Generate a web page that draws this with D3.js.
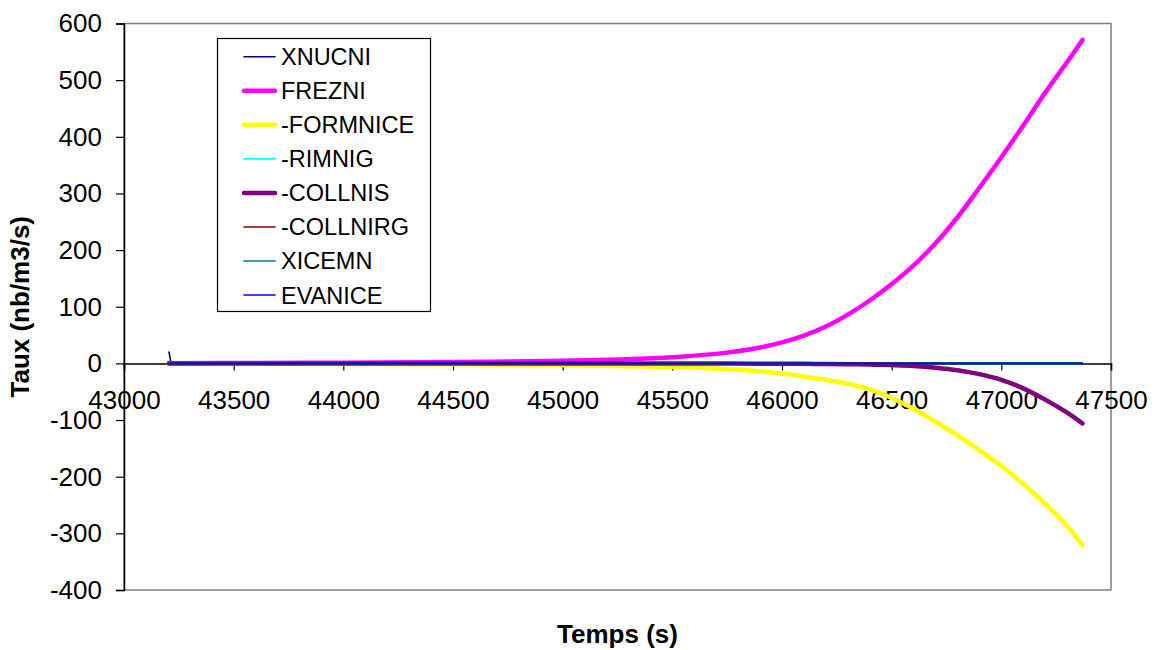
<!DOCTYPE html>
<html>
<head>
<meta charset="utf-8">
<script src="https://cdn.jsdelivr.net/npm/d3@7"></script>
<style>
  html, body { margin: 0; padding: 0; background: #ffffff; }
  svg { display: block; font-family: "Liberation Sans", Arial, sans-serif; }
</style>
</head>
<body>
<svg id="chart" width="1160" height="650"></svg>
<script>
// ---- data ----
const times = [43205, 43215, 43500, 44000, 44500, 45000, 45250, 45500, 45750, 45900, 46000, 46100, 46200, 46300, 46400, 46500, 46600, 46700, 46800, 46900, 47000, 47100, 47200, 47300, 47370];
const xnucni   = [20, 0, 0, 0, 0, 0, 0, 0, 0, 0, 0, 0, 0, 0, 0, 0, 0, 0, 0, 0, 0, 0, 0, 0, 0];
const frezni   = [0.3, 0.3, 0.6, 1.2, 2.3, 4.5, 7, 11, 19, 28, 37, 49, 65, 86, 111, 140, 173, 212, 258, 310, 364, 420, 478, 532, 571];
const formnice = [-0.5, -0.5, -0.7, -1, -1.5, -3, -4.5, -6, -10, -14, -18, -23, -29, -36, -46, -61, -80, -103, -127, -153, -181, -213, -248, -287, -321];
const rimnig   = [0, 0, 0, 0, 0, 0, 0, 0, 0, 0, 0, 0, 0, 0, 0, 0, 0, 0, 0, 0, 0, 0, 0, 0, 0];
const collnis  = [0, 0, 0, 0, 0, -0.1, -0.1, -0.2, -0.3, -0.4, -0.5, -0.7, -1, -1.4, -2, -3, -4.5, -7.5, -12, -19, -29, -44, -64, -87, -106];
const collnirg = [0, 0, 0, 0, 0, 0, 0, 0, 0, 0, 0, 0, 0, 0, 0, 0, 0, 0, 0, 0, 0, 0, 0, 0, 0];
const xicemn   = [0, 0, 0, 0, 0, 0, 0, 0, 0, 0, 0, 0, 0, 0, 0, 0, 0, 0, 0, 0, 0, 0, 0, 0, 0];
const evanice  = [0, 0, 0, 0, 0, 0, 0, 0, 0, 0, 0, 0, 0, 0, 0, 0, 0, 0, 0, 0, 0, 0, 0, 0, 0];

const seriesNames  = ["XNUCNI", "FREZNI", "-FORMNICE", "-RIMNIG", "-COLLNIS", "-COLLNIRG", "XICEMN", "EVANICE"];
const seriesValues = [xnucni, frezni, formnice, rimnig, collnis, collnirg, xicemn, evanice];
const seriesColors = ["#000080", "#ff00ff", "#ffff00", "#00ffff", "#800080", "#800000", "#008080", "#0000ff"];
const seriesWidths = [1.6, 4.5, 4.5, 1.6, 4.5, 1.6, 1.6, 1.6];

const xTicks = [43000, 43500, 44000, 44500, 45000, 45500, 46000, 46500, 47000, 47500];
const yTicks = [-400, -300, -200, -100, 0, 100, 200, 300, 400, 500, 600];
const xTitle = "Temps (s)";
const yTitle = "Taux (nb/m3/s)";

// ---- layout ----
const plot = { left: 124, right: 1111, top: 23.5, bottom: 590 };
const svg = d3.select("#chart");

const x = d3.scaleLinear().domain([43000, 47500]).range([plot.left, plot.right]);
const y = d3.scaleLinear().domain([-400, 600]).range([plot.bottom, plot.top]);
const fmt = d => String(d);

// plot area border (gray)
svg.append("rect")
  .attr("x", plot.left).attr("y", plot.top)
  .attr("width", plot.right - plot.left).attr("height", plot.bottom - plot.top)
  .attr("fill", "#ffffff").attr("stroke", "#808080").attr("stroke-width", 1.5);

// y axis
const yAxis = svg.append("g")
  .attr("transform", `translate(${plot.left},0)`)
  .call(d3.axisLeft(y).tickValues(yTicks).tickSize(8).tickPadding(14).tickFormat(fmt));
yAxis.select(".domain").attr("stroke", "#000").attr("stroke-width", 1.5);
yAxis.selectAll(".tick line").attr("stroke", "#000").attr("stroke-width", 1.2);
yAxis.selectAll(".tick text").attr("font-size", "26px").attr("fill", "#000")
  .attr("font-family", "Liberation Sans, Arial, sans-serif");

// x axis at y=0
const xAxis = svg.append("g")
  .attr("transform", `translate(0,${y(0)})`)
  .call(d3.axisBottom(x).tickValues(xTicks).tickSize(7).tickPadding(20).tickFormat(fmt));
xAxis.select(".domain").attr("stroke", "#000").attr("stroke-width", 1.5);
xAxis.selectAll(".tick line").attr("stroke", "#000").attr("stroke-width", 1.2);
xAxis.selectAll(".tick text").attr("font-size", "26px").attr("fill", "#000")
  .attr("font-family", "Liberation Sans, Arial, sans-serif");

// lines
const smoothLine = d3.line()
  .x((d, i) => x(times[i]))
  .y(d => y(d))
  .curve(d3.curveCatmullRom.alpha(0.5));
const straightLine = d3.line()
  .x((d, i) => x(times[i]))
  .y(d => y(d))
  .curve(d3.curveLinear);

seriesValues.forEach((vals, k) => {
  svg.append("path")
    .datum(vals)
    .attr("fill", "none")
    .attr("stroke", seriesColors[k])
    .attr("stroke-width", seriesWidths[k])
    .attr("stroke-linecap", "round")
    .attr("stroke-linejoin", "round")
    .attr("d", k === 0 ? straightLine : smoothLine);
});

// legend
const lg = svg.append("g");
lg.append("rect")
  .attr("x", 217.5).attr("y", 38.5).attr("width", 213).attr("height", 273)
  .attr("fill", "#ffffff").attr("stroke", "#000").attr("stroke-width", 1.2);
seriesNames.forEach((name, k) => {
  const cy = 56.7 + k * 34.05;
  lg.append("line")
    .attr("x1", 244).attr("x2", 275).attr("y1", cy).attr("y2", cy)
    .attr("stroke", seriesColors[k]).attr("stroke-width", seriesWidths[k])
    .attr("stroke-linecap", "round");
  lg.append("text")
    .attr("x", 281).attr("y", cy).attr("dy", "0.36em")
    .attr("font-size", "23.5px").attr("fill", "#000")
    .text(name);
});

// axis titles
svg.append("text")
  .attr("x", (plot.left + plot.right) / 2).attr("y", 643)
  .attr("text-anchor", "middle").attr("font-weight", "bold").attr("font-size", "26px")
  .text(xTitle);
svg.append("text")
  .attr("transform", `translate(29,${(plot.top + plot.bottom) / 2}) rotate(-90)`)
  .attr("text-anchor", "middle").attr("font-weight", "bold").attr("font-size", "26px")
  .text(yTitle);
</script>
</body>
</html>
